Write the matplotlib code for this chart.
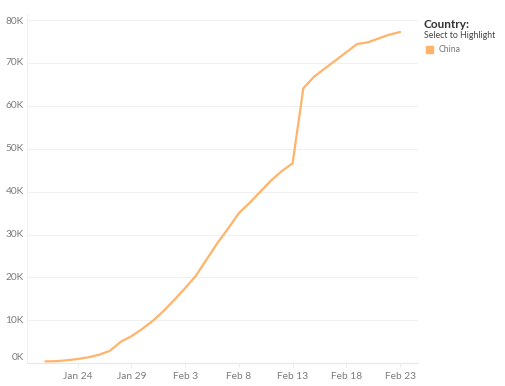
import numpy as np
import pandas as pd
import matplotlib
matplotlib.use("Agg")
import matplotlib.pyplot as plt
import matplotlib.dates as mdates
from matplotlib.ticker import MultipleLocator, NullFormatter
from matplotlib.transforms import ScaledTranslation, blended_transform_factory

plt.rcParams['font.family'] = ['Lato', 'DejaVu Sans']

# Data (thousands of confirmed cases)
dates = pd.date_range('2020-01-21', '2020-02-23', freq='D')
cases_k = [0.45, 0.5, 0.7, 1.0, 1.4, 2.0, 2.9, 5.0, 6.3, 8.0, 9.9,
           12.2, 14.8, 17.5, 20.4, 24.2, 28.0, 31.4, 35.0, 37.4, 40.0,
           42.6, 44.8, 46.6, 64.1, 66.8, 68.7, 70.6, 72.5, 74.4, 74.8,
           75.7, 76.6, 77.2]
country = 'China'
line_color = '#ffb36b'
tick_dates = pd.date_range('2020-01-24', '2020-02-23', freq='5D')

W, H = 506, 386
fig = plt.figure(figsize=(W / 100, H / 100), dpi=100)
ax = fig.add_axes([27 / W, 1 - 363.3 / H, (418 - 27) / W, (363.3 - 14) / H])

ax.plot(dates, [v * 1000 for v in cases_k], color=line_color, lw=1.6,
        solid_joinstyle='round', solid_capstyle='round', zorder=3)

ax.set_ylim(0, 81400)
ax.set_xlim(pd.Timestamp('2020-01-19 07:00'), pd.Timestamp('2020-02-24 16:00'))

ax.yaxis.set_major_locator(MultipleLocator(10000))
ax.yaxis.set_major_formatter(NullFormatter())
ax.set_xticks(tick_dates)
ax.xaxis.set_major_formatter(mdates.DateFormatter('%b %-d'))

ax.grid(axis='y', color='#f0f0f0', lw=0.8)
ax.set_axisbelow(True)
for s in ['top', 'right']:
    ax.spines[s].set_visible(False)
ax.spines['left'].set_color('#f0f0f0')
ax.spines['bottom'].set_color('#e8e8e8')
ax.tick_params(axis='y', length=0)
ax.tick_params(axis='x', length=3, width=0.6, color='#e8e8e8', pad=3.5,
               labelsize=7.3, labelcolor='#7a7a7a')

# y labels drawn by hand so the end ones can sit inside the plot
ytrans = blended_transform_factory(ax.transAxes, ax.transData)
for v in ax.get_yticks():
    if v < 0 or v > 81400:
        continue
    shift = 6 if v == 0 else (-1.5 if v == 80000 else 0)
    tr = ytrans + ScaledTranslation(-3 / 100, shift / 100, fig.dpi_scale_trans)
    ax.text(0, v, f'{int(v / 1000)}K', transform=tr, ha='right', va='center',
            fontsize=7.3, color='#7a7a7a', clip_on=False)

# legend block
fig.text(424 / W, 1 - 25 / H, 'Country:', fontsize=8.5, fontweight='bold',
         color='#333333', va='center')
fig.text(424 / W, 1 - 35.5 / H, 'Select to Highlight', fontsize=6.3,
         color='#444444', va='center')
fig.patches.append(plt.Rectangle((426 / W, 1 - 53 / H), 7 / W, 7 / H,
                                 transform=fig.transFigure, color=line_color))
fig.text(439 / W, 1 - 49.5 / H, country, fontsize=6.3, color='#777777', va='center')

fig.savefig('out.png', dpi=100)
